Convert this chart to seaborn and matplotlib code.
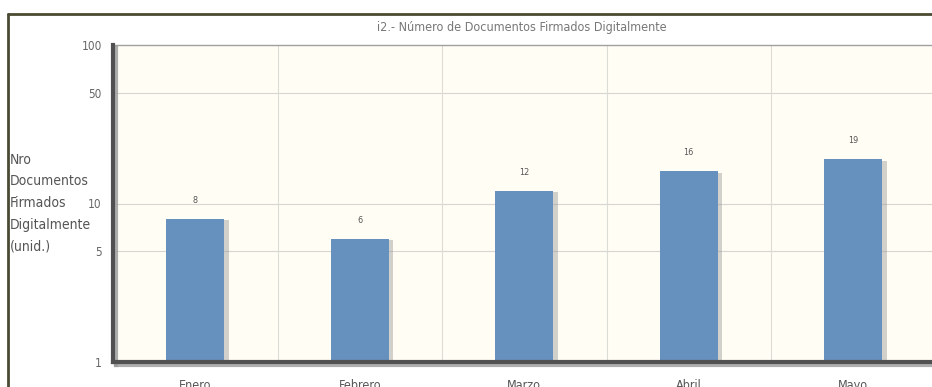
import matplotlib
matplotlib.use("Agg")
import matplotlib.pyplot as plt
import matplotlib.patheffects as pe
from matplotlib.lines import Line2D
from matplotlib.ticker import FixedLocator, NullLocator
import pandas as pd
import seaborn as sns

months = ["Enero", "Febrero", "Marzo", "Abril", "Mayo"]
docs = [8, 6, 12, 16, 19]
y_ticks = [1, 5, 10, 50, 100]
title = "i2.- Número de Documentos Firmados Digitalmente"
y_label_lines = ["Nro", "Documentos", "Firmados", "Digitalmente", "(unid.)"]

sns.set_style("white")
plt.rcParams["font.family"] = ["DejaVu Sans"]
plt.rcParams["font.stretch"] = "condensed"

df = pd.DataFrame({"mes": months, "docs": docs})

W, H = 932, 387
fig = plt.figure(figsize=(W / 100, H / 100), dpi=100)
fig.patch.set_facecolor("white")

# plot area in pixel terms (right edge runs past the figure)
left, right, top, bottom = 113, 935.5, 45, 362
ax = fig.add_axes([left / W, 1 - bottom / H, (right - left) / W, (bottom - top) / H])
ax.set_facecolor("#fffdf4")

sns.barplot(data=df, x="mes", y="docs", color="#6690be", width=0.355,
            saturation=1, ax=ax, zorder=3)
ax.set_yscale("log")
ax.set_ylim(1, 100)
ax.set_xlim(-0.5, len(months) - 0.5)

for bar in ax.patches:
    bar.set_edgecolor("none")
    bar.set_path_effects([pe.SimplePatchShadow(offset=(3, -1), shadow_rgbFace="#9a9a9a", alpha=0.45),
                          pe.Normal()])

for i, v in enumerate(docs):
    ax.annotate(str(v), (i, v), xytext=(0, 10), textcoords="offset points",
                ha="center", va="bottom", fontsize=6.5, color="#555555")

ax.yaxis.set_major_locator(FixedLocator(y_ticks))
ax.yaxis.set_minor_locator(NullLocator())
ax.set_yticklabels([str(t) for t in y_ticks], fontsize=8.5, color="#666666")
ax.tick_params(axis="y", length=3, color="#888888", pad=5)

# grid: horizontal at ticks, vertical at category boundaries
for t in y_ticks[1:-1]:
    ax.axhline(t, color="#d6d6d0", lw=0.8, zorder=1)
for b in range(1, len(months)):
    ax.axvline(b - 0.5, color="#dcdcd6", lw=0.8, zorder=1)

ax.set_xticks(range(len(months)))
ax.set_xticklabels(months, fontsize=9, color="#555555")
ax.tick_params(axis="x", length=0, pad=12)
ax.set_xlabel("")
ax.set_ylabel("")

ax.spines["right"].set_visible(False)
ax.spines["top"].set_color("#a0a0a0")
ax.spines["top"].set_linewidth(1.0)
for side in ["left", "bottom"]:
    ax.spines[side].set_color("#505050")
    ax.spines[side].set_linewidth(3)
    ax.spines[side].set_path_effects([pe.SimpleLineShadow(offset=(2, -2), shadow_color="#999999", alpha=0.8),
                                      pe.Normal()])
    ax.spines[side].set_zorder(4)

fig.text(522 / W, 1 - 27 / H, title, ha="center", va="center",
         fontsize=9, color="#777777")

# axis title, one line at a time (about 21 px apart)
for k, line in enumerate(y_label_lines):
    fig.text(10 / W, 1 - (160 + 21.5 * k) / H, line, ha="left", va="center",
             fontsize=10, color="#555555")

# outer frame lines (top and left)
fig.add_artist(Line2D([8 / W, 1], [1 - 14 / H, 1 - 14 / H], color="#4b4a32", lw=2))
fig.add_artist(Line2D([8 / W, 8 / W], [0, 1 - 14 / H], color="#4b4a32", lw=2))

fig.savefig("out.png", dpi=100)
